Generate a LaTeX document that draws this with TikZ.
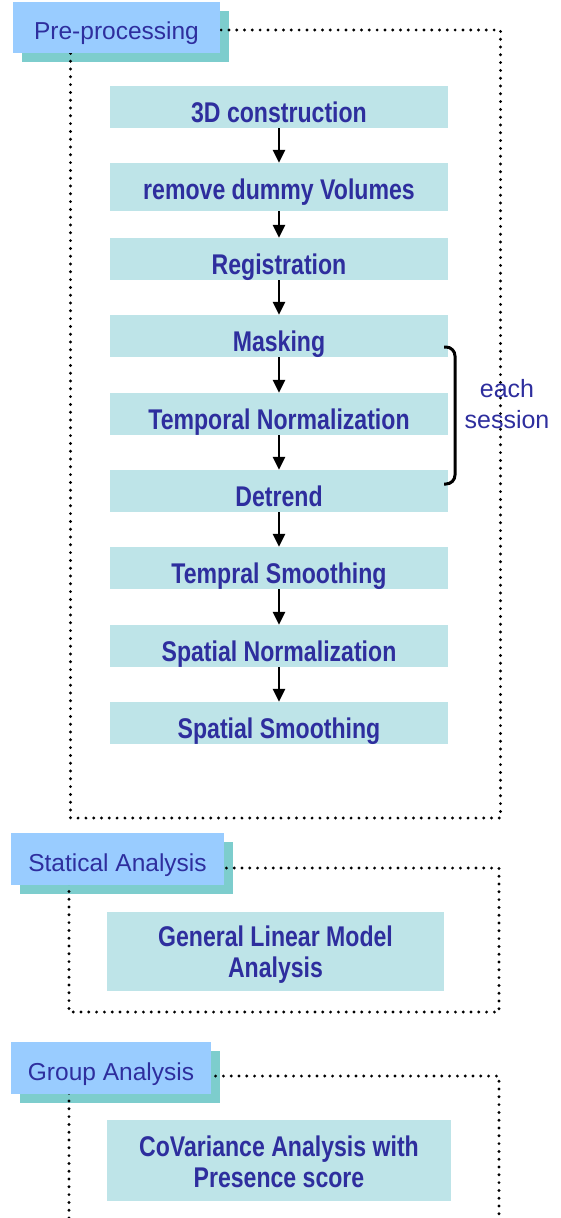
\documentclass[tikz,border=0pt]{standalone}
\usepackage{fontspec}
\setmainfont{Liberation Sans}
\newfontfamily\stepfamily[FakeStretch=0.81]{Liberation Sans}
\usetikzlibrary{arrows.meta}
\definecolor{hdrblue}{RGB}{153,204,255}
\definecolor{shdteal}{RGB}{125,205,205}
\definecolor{stepcyan}{RGB}{190,228,232}
\definecolor{txtblue}{RGB}{46,46,158}
\tikzset{
  hdr/.style={fill=hdrblue, minimum height=51pt, inner sep=0pt, text height=37pt, text depth=14pt,
    font=\fontsize{24.5}{28}\selectfont, text=txtblue},
  shd/.style={fill=shdteal, minimum height=51pt, inner sep=0pt},
  stepbox/.style={fill=stepcyan, minimum width=338pt, minimum height=42pt, inner sep=0pt,
    text height=36pt, text depth=6pt, font=\stepfamily\bfseries\fontsize{28.5}{31}\selectfont, text=txtblue},
  bigbox/.style={fill=stepcyan, inner sep=0pt},
  twoline/.style={align=center, inner sep=0pt, text=txtblue,
    font=\stepfamily\bfseries\fontsize{28.5}{31}\selectfont},
  sidenote/.style={align=center, inner sep=0pt, text=txtblue, font=\fontsize{25}{31}\selectfont},
  flow/.style={-{Triangle[width=12pt,length=13pt]}, line width=2.8pt},
  dotframe/.style={line width=3.2pt, dash pattern=on 0pt off 7.8pt, line cap=round},
}
\begin{document}
\begin{tikzpicture}[x=1pt,y=-1pt]
\useasboundingbox (0,0) rectangle (560,1218);
% shadows
\node[shd, minimum width=207pt] (preS) at (125.5,36.5) {};
\node[shd, minimum width=213pt, minimum height=52pt] (statS) at (126.5,868) {};
\node[shd, minimum width=200pt, minimum height=52pt] (grpS) at (120,1077) {};
% dotted frames
\draw[dotframe] (70.5,30) rectangle (500.5,818);
\draw[dotframe] (69,868) rectangle (499,1012);
\draw[dotframe] (69,1218) -- (69,1076) -- (499,1076) -- (499,1218);
% headers
\node[hdr, minimum width=207pt] (preF) at (116.5,27.5) {Pre-processing};
\node[hdr, minimum width=213pt, minimum height=52pt, text height=38pt] (statF) at (117.5,859) {Statical Analysis};
\node[hdr, minimum width=200pt, minimum height=52pt, text height=38pt] (grpF) at (111,1068) {Group Analysis};
% steps
\node[stepbox] (s1) at (279,107) {3D construction};
\node[stepbox, minimum height=48pt, text height=36pt, text depth=12pt] (s2) at (279,187) {remove dummy Volumes};
\node[stepbox] (s3) at (279,259) {Registration};
\node[stepbox] (s4) at (279,336) {Masking};
\node[stepbox] (s5) at (279,414) {Temporal Normalization};
\node[stepbox] (s6) at (279,491) {Detrend};
\node[stepbox] (s7) at (279,568) {Tempral Smoothing};
\node[stepbox] (s8) at (279,646) {Spatial Normalization};
\node[stepbox] (s9) at (279,723) {Spatial Smoothing};
\foreach \a/\b in {s1/s2,s2/s3,s3/s4,s4/s5,s5/s6,s6/s7,s7/s8,s8/s9}
  \draw[flow] (\a.south) -- (\b.north);
% bracket
\draw[line width=3pt, rounded corners=9pt] (444,347) -- (455,347) -- (455,484) -- (444,484);
\node[sidenote, anchor=base] (each) at (507,428) {each\\session};
% analysis boxes
\node[bigbox, minimum width=337pt, minimum height=79pt] (glm) at (275.5,951.5) {};
\node[twoline, anchor=base] (glmT) at (275.5,977) {General Linear Model\\Analysis};
\node[bigbox, minimum width=344pt, minimum height=81pt] (cov) at (279,1160.5) {};
\node[twoline, anchor=base] (covT) at (279,1187) {CoVariance Analysis with\\Presence score};
\end{tikzpicture}
\end{document}
